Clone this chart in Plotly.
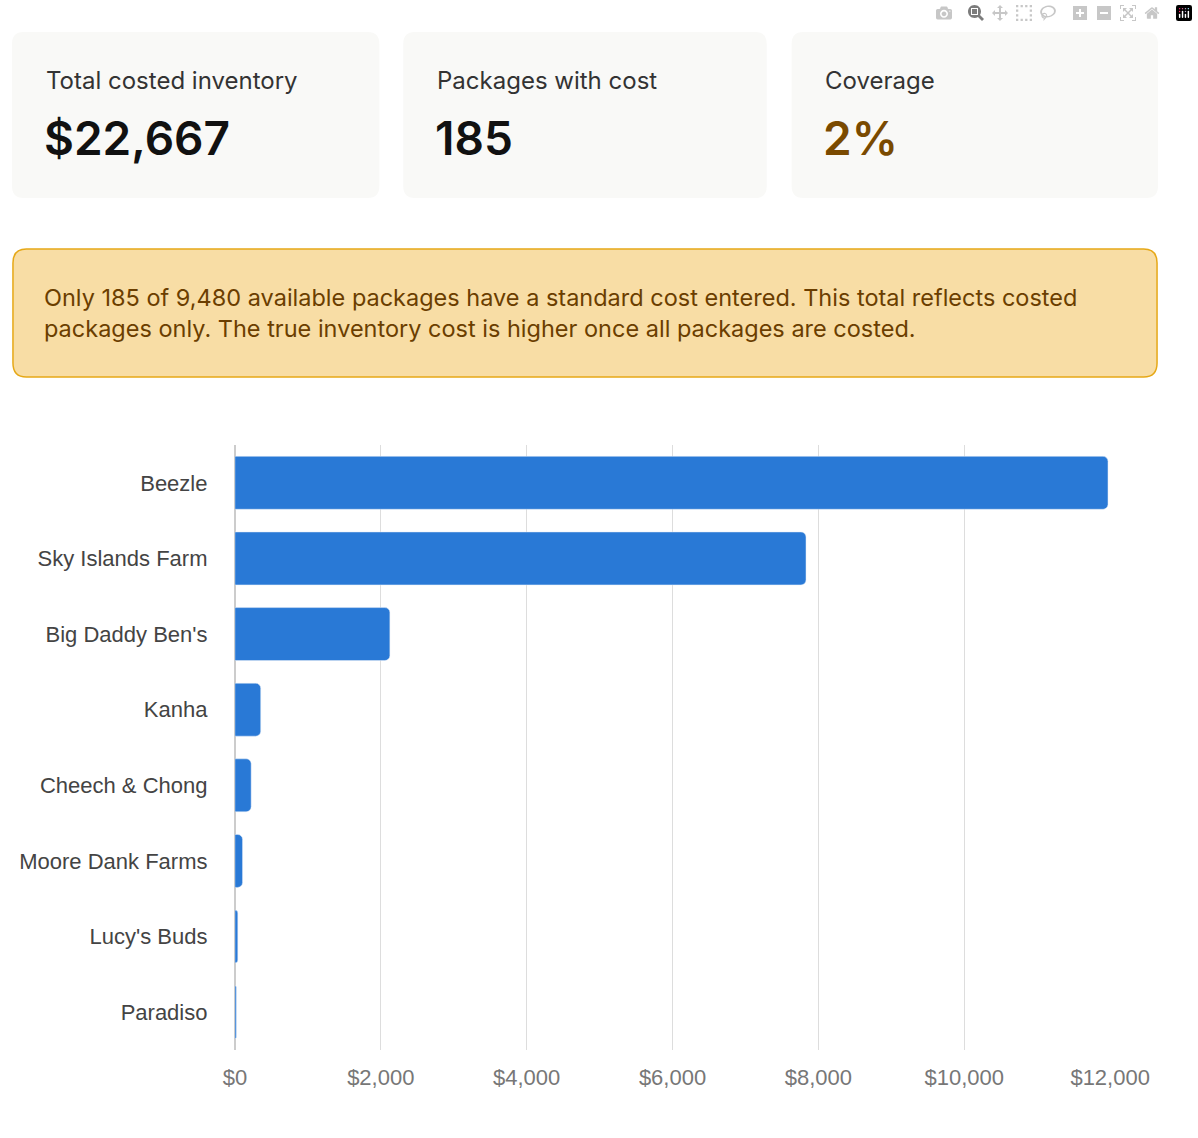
import plotly.graph_objects as go

W, H = 1198, 1138
brands = ["Beezle", "Sky Islands Farm", "Big Daddy Ben's", "Kanha", "Cheech & Chong",
          "Moore Dank Farms", "Lucy's Buds", "Paradiso"]
costs = [11970, 7830, 2125, 354, 223, 105, 40, 20]
tick_vals = [0, 2000, 4000, 6000, 8000, 10000, 12000]
tick_text = ["$0", "$2,000", "$4,000", "$6,000", "$8,000", "$10,000", "$12,000"]
cards = [("Total costed inventory", "$22,667", "#111111"),
         ("Packages with cost", "185", "#111111"),
         ("Coverage", "2%", "#7a4a00")]
card_x = [(0, 384), (409, 789), (815, 1198)]
warning = ("Only 185 of 9,480 available packages have a standard cost entered. This total reflects costed<br>"
           "packages only. The true inventory cost is higher once all packages are costed.")

def px(x): return x / W
def py(y): return 1 - y / H

def rrect(x0, y0, x1, y1, r):
    rx, ry = r / W, r / H
    a, b, c, d = px(x0), py(y1), px(x1), py(y0)
    return (f"M{a+rx},{b} L{c-rx},{b} Q{c},{b} {c},{b+ry} L{c},{d-ry} Q{c},{d} {c-rx},{d} "
            f"L{a+rx},{d} Q{a},{d} {a},{d-ry} L{a},{b+ry} Q{a},{b} {a+rx},{b} Z")

fig = go.Figure(go.Bar(y=brands, x=costs, orientation="h", marker_color="#2979d6",
                       width=0.7, hoverinfo="x+y"))
shapes, ann = [], []
for (lab, val, col), (x0, x1) in zip(cards, card_x):
    shapes.append(dict(type="path", xref="paper", yref="paper", path=rrect(x0, 32, x1, 198, 12),
                       fillcolor="#f9f9f7", line=dict(width=0), layer="below"))
    ann.append(dict(x=px(x0 + 33), y=py(80), xref="paper", yref="paper", text=lab, showarrow=False,
                    xanchor="left", yanchor="middle", font=dict(family="Inter", size=24, color="#333")))
    ann.append(dict(x=px(x0 + 31), y=py(138), xref="paper", yref="paper", text=val, showarrow=False,
                    xanchor="left", yanchor="middle",
                    font=dict(family="Inter", size=46, color=col, weight=600)))
shapes.append(dict(type="path", xref="paper", yref="paper", path=rrect(1, 249, 1197, 377, 14),
                   fillcolor="#f8dda5", line=dict(color="#e6a817", width=1.5), layer="below"))
ann.append(dict(x=px(31), y=py(313), xref="paper", yref="paper", text=warning, showarrow=False,
                xanchor="left", yanchor="middle", align="left",
                font=dict(family="Inter", size=23.5, color="#6b3e00")))

fig.update_layout(
    width=W, height=H, margin=dict(l=0, r=0, t=0, b=0), paper_bgcolor="white", plot_bgcolor="white",
    shapes=shapes, annotations=ann, showlegend=False, barcornerradius=5,
    xaxis=dict(domain=[px(233), px(1148)], range=[0, 12000], tickvals=tick_vals, ticktext=tick_text,
               showgrid=True, gridcolor="#dddddd", zeroline=True, zerolinecolor="#cccccc",
               tickfont=dict(family="Liberation Sans", size=22, color="#777"), ticklen=8,
               ticks="outside", tickcolor="white"),
    yaxis=dict(domain=[1 - 1050 / H, 1 - 445 / H], autorange="reversed", ticks="outside",
               ticklen=22, tickcolor="white",
               tickfont=dict(family="Liberation Sans", size=22, color="#444"), showgrid=False),
)
fig.write_html("out.html",
               post_script="document.body.style.margin='0';document.body.style.overflow='hidden';")
